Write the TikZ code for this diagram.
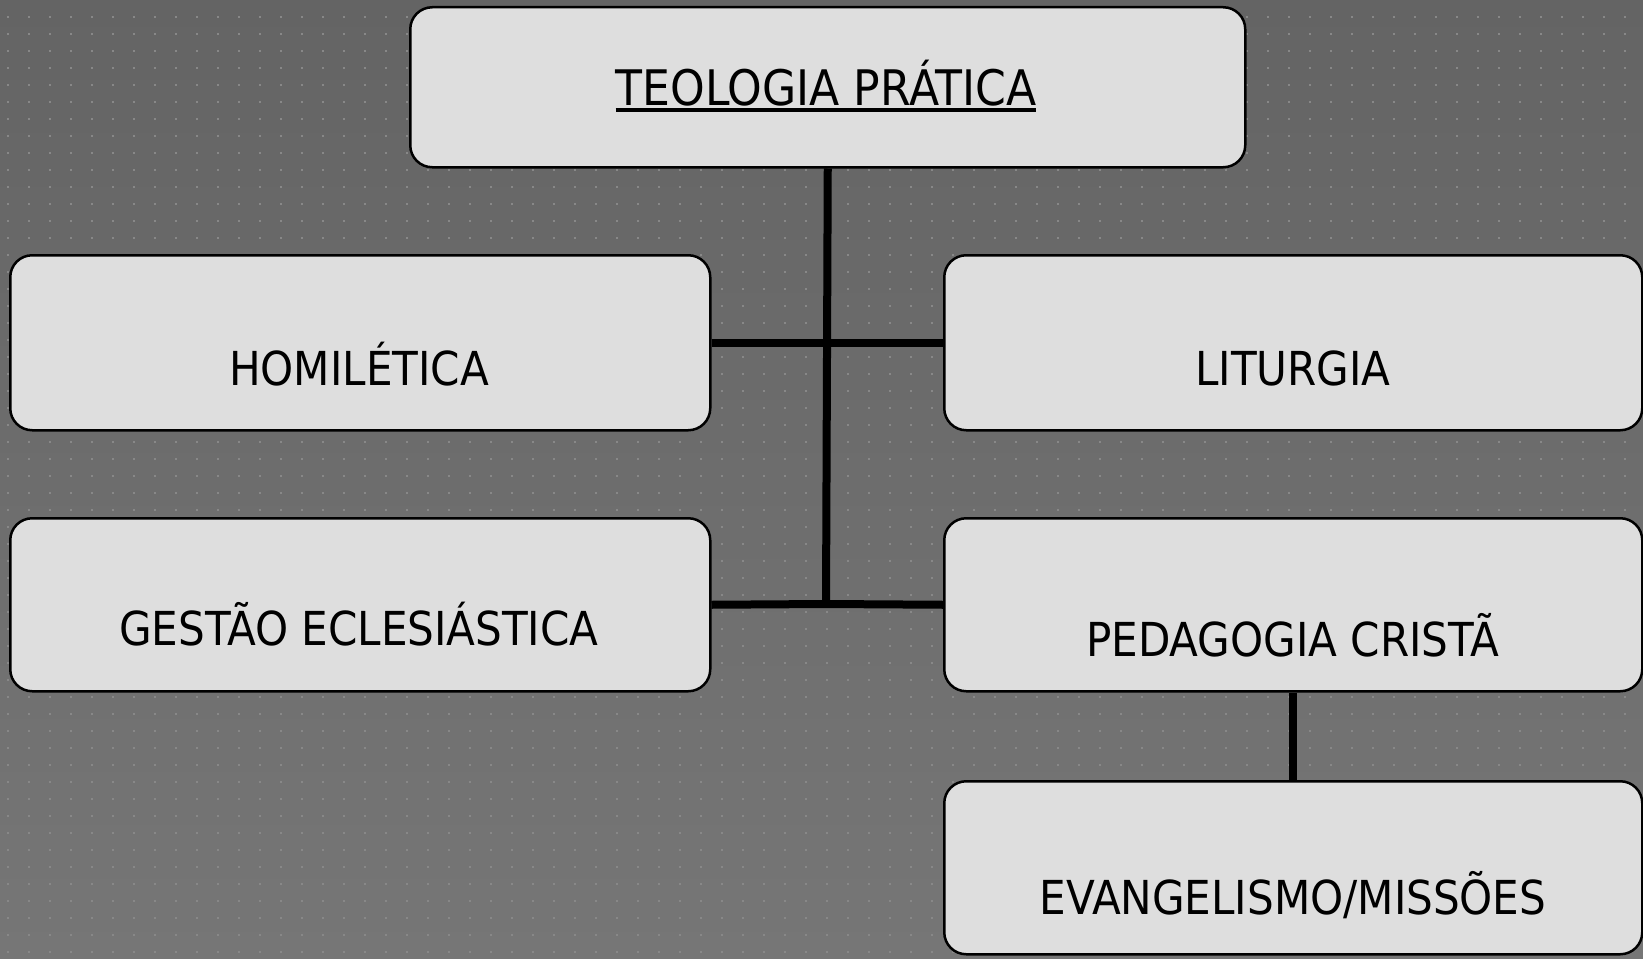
\documentclass[tikz,border=0pt]{standalone}
\usepackage{fontspec}
\setmainfont{DejaVu Sans Condensed}
\usetikzlibrary{positioning}
\definecolor{bgtop}{HTML}{646464}
\definecolor{bgbot}{HTML}{767676}
\definecolor{dotc}{HTML}{888888}
\definecolor{boxfill}{HTML}{DEDEDE}
\newcommand{\thickul}[1]{\setbox0\hbox{#1}\rlap{\rule[-6.5pt]{\wd0}{3.5pt}}\box0}
\tikzset{
  box/.style={draw=black, line width=2.5pt, fill=boxfill, rounded corners=22pt, minimum width=#1, inner sep=0pt, anchor=north west},
  lbl/.style={font=\fontsize{46.8}{56}\selectfont, text=black, inner sep=0pt, anchor=base},
  conn/.style={draw=black, line width=8pt}
}
\begin{document}
\begin{tikzpicture}[x=1pt,y=-1pt]
\useasboundingbox (0,0) rectangle (1643,958);
\shade[top color=bgtop, bottom color=bgbot] (0,0) rectangle (1643,958);
\foreach \i in {0,...,78}{
  \foreach \j in {0,...,55}{
    \fill[dotc] (8+\i*21-1, 17+\j*17-1) rectangle ++(2,2);
  }
}
\coordinate (j2) at (826,604);
% boxes
\node[box=835pt, minimum height=160pt] (top) at (409,6) {};
\node[box=700pt, minimum height=175pt] (hom) at (9,254) {};
\node[box=698pt, minimum height=175pt] (lit) at (943,254) {};
\node[box=700pt, minimum height=173pt] (ges) at (9,517) {};
\node[box=698pt, minimum height=173pt] (ped) at (943,517) {};
\node[box=698pt, minimum height=173pt] (eva) at (943,780) {};
% connectors
\draw[conn] (top.south) -- (j2);
\draw[conn] (hom.east) -- (lit.west);
\draw[conn] (ges.east) -- (j2) -- (ped.west);
\draw[conn] (ped.south) -- (eva.north);
% labels
\node[lbl, font=\fontsize{49}{58}\selectfont] (tTop) at (826,105) {\thickul{TEOLOGIA PRÁTICA}};
\node[lbl] (tHom) at (359,385) {HOMILÉTICA};
\node[lbl] (tLit) at (1293,385) {LITURGIA};
\node[lbl] (tGes) at (359,645) {GESTÃO ECLESIÁSTICA};
\node[lbl] (tPed) at (1293,656) {PEDAGOGIA CRISTÃ};
\node[lbl] (tEva) at (1293,914) {EVANGELISMO/MISSÕES};
\end{tikzpicture}
\end{document}
